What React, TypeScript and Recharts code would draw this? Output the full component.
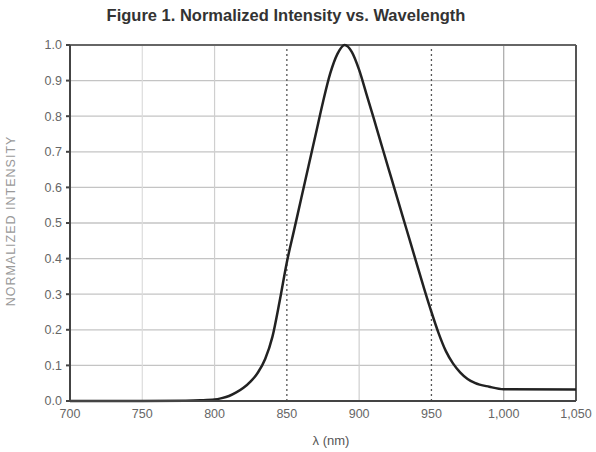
import {
  LineChart,
  Line,
  CartesianGrid,
  XAxis,
  YAxis,
  ReferenceLine,
  Label,
} from "recharts";

const wavelengths = [
  700, 750, 780, 790, 800, 805, 810, 815, 820, 825, 830, 835, 840, 845, 850,
  855, 860, 865, 870, 875, 880, 885, 890, 895, 900, 905, 910, 915, 920, 925,
  930, 935, 940, 945, 950, 955, 960, 965, 970, 975, 980, 990, 1000, 1050,
];

const intensity = [
  0, 0, 0.001, 0.002, 0.004, 0.008, 0.014, 0.024, 0.037, 0.055, 0.08, 0.118,
  0.18, 0.28, 0.39, 0.48, 0.57, 0.66, 0.75, 0.84, 0.92, 0.975, 1.0,
  0.98, 0.93, 0.863, 0.795, 0.726, 0.657, 0.589, 0.52, 0.452, 0.383, 0.315,
  0.25, 0.19, 0.14, 0.105, 0.08, 0.062, 0.051, 0.04, 0.033, 0.032,
];

const xTicks = [700, 750, 800, 850, 900, 950, 1000, 1050];
const yTicks = [0, 0.1, 0.2, 0.3, 0.4, 0.5, 0.6, 0.7, 0.8, 0.9, 1.0];

// solid light grid lines vs. the darker dotted ones at 850 / 950
const lightVLines = [750, 800, 900, 1000];
const dottedVLines = [850, 950];

const data = wavelengths.map((w, i) => ({ nm: w, value: intensity[i] }));

const FONT = "'Liberation Sans', Arial, sans-serif";

export default function App() {
  return (
    <div
      style={{
        position: "absolute",
        left: 0,
        top: 0,
        width: 596,
        height: 452,
        background: "#fff",
        fontFamily: FONT,
      }}
    >
      <div
        style={{
          position: "absolute",
          left: 0,
          width: 572,
          top: 6,
          textAlign: "center",
          fontSize: 16.5,
          fontWeight: 700,
          color: "#333",
        }}
      >
        Figure 1. Normalized Intensity vs. Wavelength
      </div>

      <div
        style={{
          position: "absolute",
          left: 11,
          top: 221,
          transform: "translate(-50%, -50%) rotate(-90deg)",
          whiteSpace: "nowrap",
          fontSize: 12.5,
          color: "#999",
          letterSpacing: 1,
        }}
      >
        NORMALIZED INTENSITY
      </div>

      <LineChart
        width={596}
        height={452}
        data={data}
        margin={{ top: 45, right: 20, bottom: 0, left: 0 }}
        style={{ position: "absolute", left: 0, top: 0 }}
      >
        <CartesianGrid
          vertical={false}
          stroke="#c4c4c4"
          strokeWidth={1.3}
        />

        {lightVLines.map((x) => (
          <ReferenceLine
            key={x}
            x={x}
            stroke={x === 1000 ? "#a8a8a8" : x === 750 ? "#dcdcdc" : "#cfcfcf"}
            strokeWidth={1.2}
          />
        ))}

        {dottedVLines.map((x) => (
          <ReferenceLine
            key={x}
            x={x}
            stroke="#555"
            strokeWidth={1.3}
            strokeDasharray="2 3"
          />
        ))}

        <ReferenceLine y={1} stroke="#666" strokeWidth={2} />
        <ReferenceLine x={1050} stroke="#555" strokeWidth={2} />

        <XAxis
          dataKey="nm"
          type="number"
          domain={[700, 1050]}
          ticks={xTicks}
          tickFormatter={(v: number) => v.toLocaleString("en-US")}
          stroke="#444"
          strokeWidth={2}
          tickSize={0}
          tickMargin={8}
          height={51}
          tick={{ fill: "#666", fontSize: 12.5 }}
        >
          <Label
            value="λ (nm)"
            position="insideBottom"
            offset={7}
            dx={8}
            style={{ fill: "#555", fontSize: 13 }}
          />
        </XAxis>

        <YAxis
          type="number"
          domain={[0, 1]}
          ticks={yTicks}
          tickFormatter={(v: number) => v.toFixed(1)}
          stroke="#444"
          strokeWidth={2}
          tickSize={4}
          tickMargin={4}
          width={70}
          tick={{ fill: "#666", fontSize: 12.5 }}
        />

        <Line
          type="monotone"
          dataKey="value"
          stroke="#222"
          strokeWidth={2.5}
          dot={false}
          isAnimationActive={false}
        />
      </LineChart>
    </div>
  );
}
